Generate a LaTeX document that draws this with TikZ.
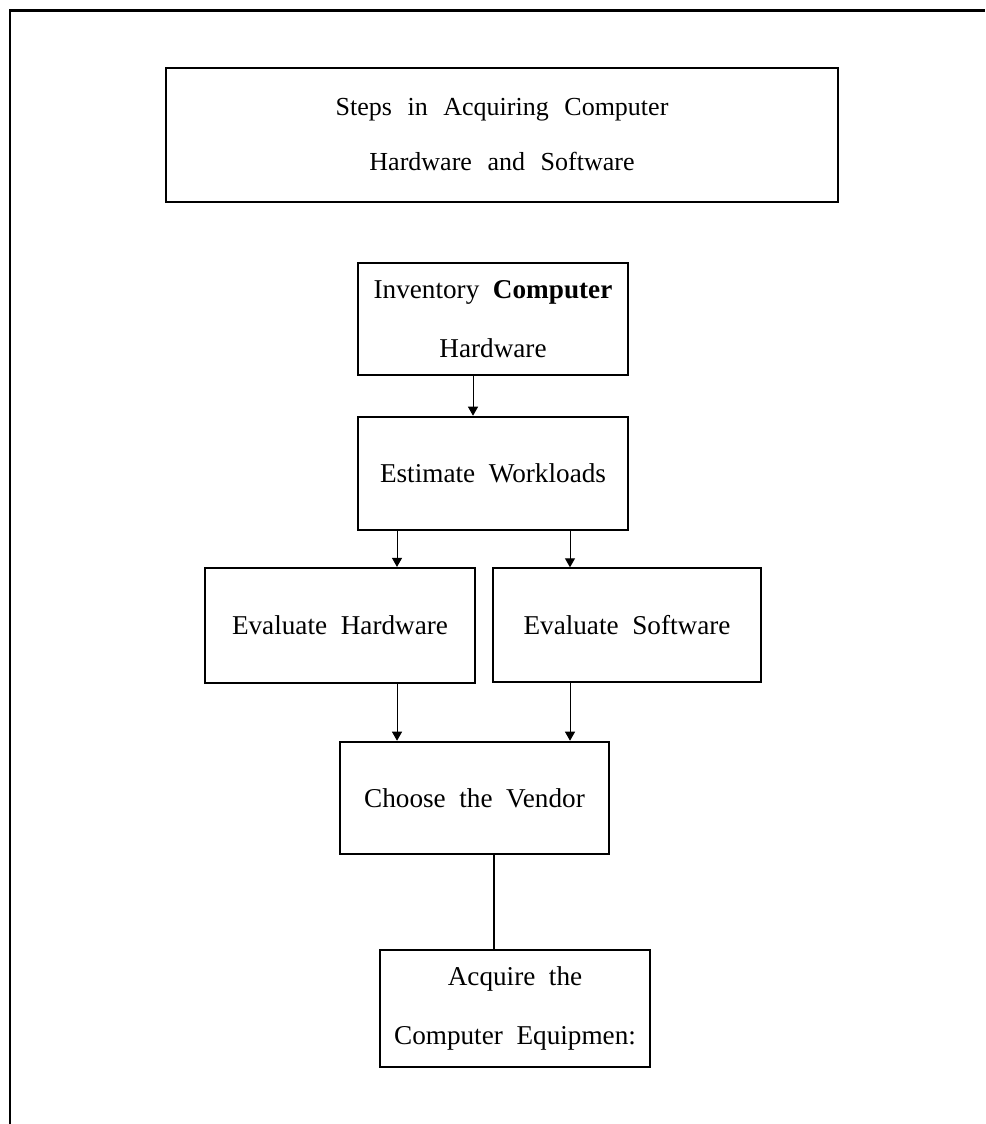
\documentclass[tikz,border=0pt]{standalone}
\usepackage{fontspec}
\setmainfont{Liberation Serif}
\usetikzlibrary{arrows.meta}
\newcommand\widespace[1]{\spaceskip #1em plus 0.1em\relax}

\begin{document}
\begin{tikzpicture}[x=0.5pt,y=-0.5pt,
	stepbox/.style={draw, line width=1.3pt, rectangle, inner sep=0pt, align=center,
		minimum width=135pt, minimum height=56pt,
		font=\fontsize{13.6}{29.5}\selectfont\widespace{0.5}},
	arr/.style={-{Triangle[length=4.5pt,width=5pt]}, line width=0.5pt}]
	\useasboundingbox (0,0) rectangle (985,1124);
	% open frame round the page
	\draw[line width=1.2pt] (10,1124) -- (10,10.5) -- (985,10.5);
	\node[stepbox, line width=1.4pt, minimum width=336pt, minimum height=67pt,
		font=\fontsize{13}{27.5}\selectfont\widespace{0.6}]
		(title) at (502,135) {Steps in Acquiring Computer\\Hardware and Software};
	\node[stepbox] (inv) at (493,319) {Inventory \textbf{Computer}\\Hardware};
	\node[stepbox, minimum height=56.5pt] (est) at (493,473.5) {Estimate Workloads};
	\node[stepbox, line width=1.1pt, minimum height=57.5pt] (evhw) at (340,625.5) {Evaluate Hardware};
	\node[stepbox, line width=0.7pt, minimum width=134pt, minimum height=57pt] (evsw) at (627,625) {Evaluate Software};
	\node[stepbox, minimum width=134.5pt] (choose) at (474.5,798) {Choose the Vendor};
	\node[stepbox, line width=1.2pt, minimum height=58.5pt] (acq) at (515,1008.5) {Acquire the\\Computer Equipmen:};
	\path[arr]
	([xshift=-10pt]inv.south) edge ([xshift=-10pt]est.north)
	([xshift=-48pt]est.south) edge ([xshift=28.5pt]evhw.north)
	([xshift=38.5pt]est.south) edge ([xshift=-28.5pt]evsw.north)
	([xshift=28.5pt]evhw.south) edge ([xshift=-38.75pt]choose.north)
	([xshift=-28.5pt]evsw.south) edge ([xshift=47.75pt]choose.north);
	\draw[line width=1pt] ([xshift=9.75pt]choose.south) -- ([xshift=-10.5pt]acq.north);
\end{tikzpicture}
\end{document}
